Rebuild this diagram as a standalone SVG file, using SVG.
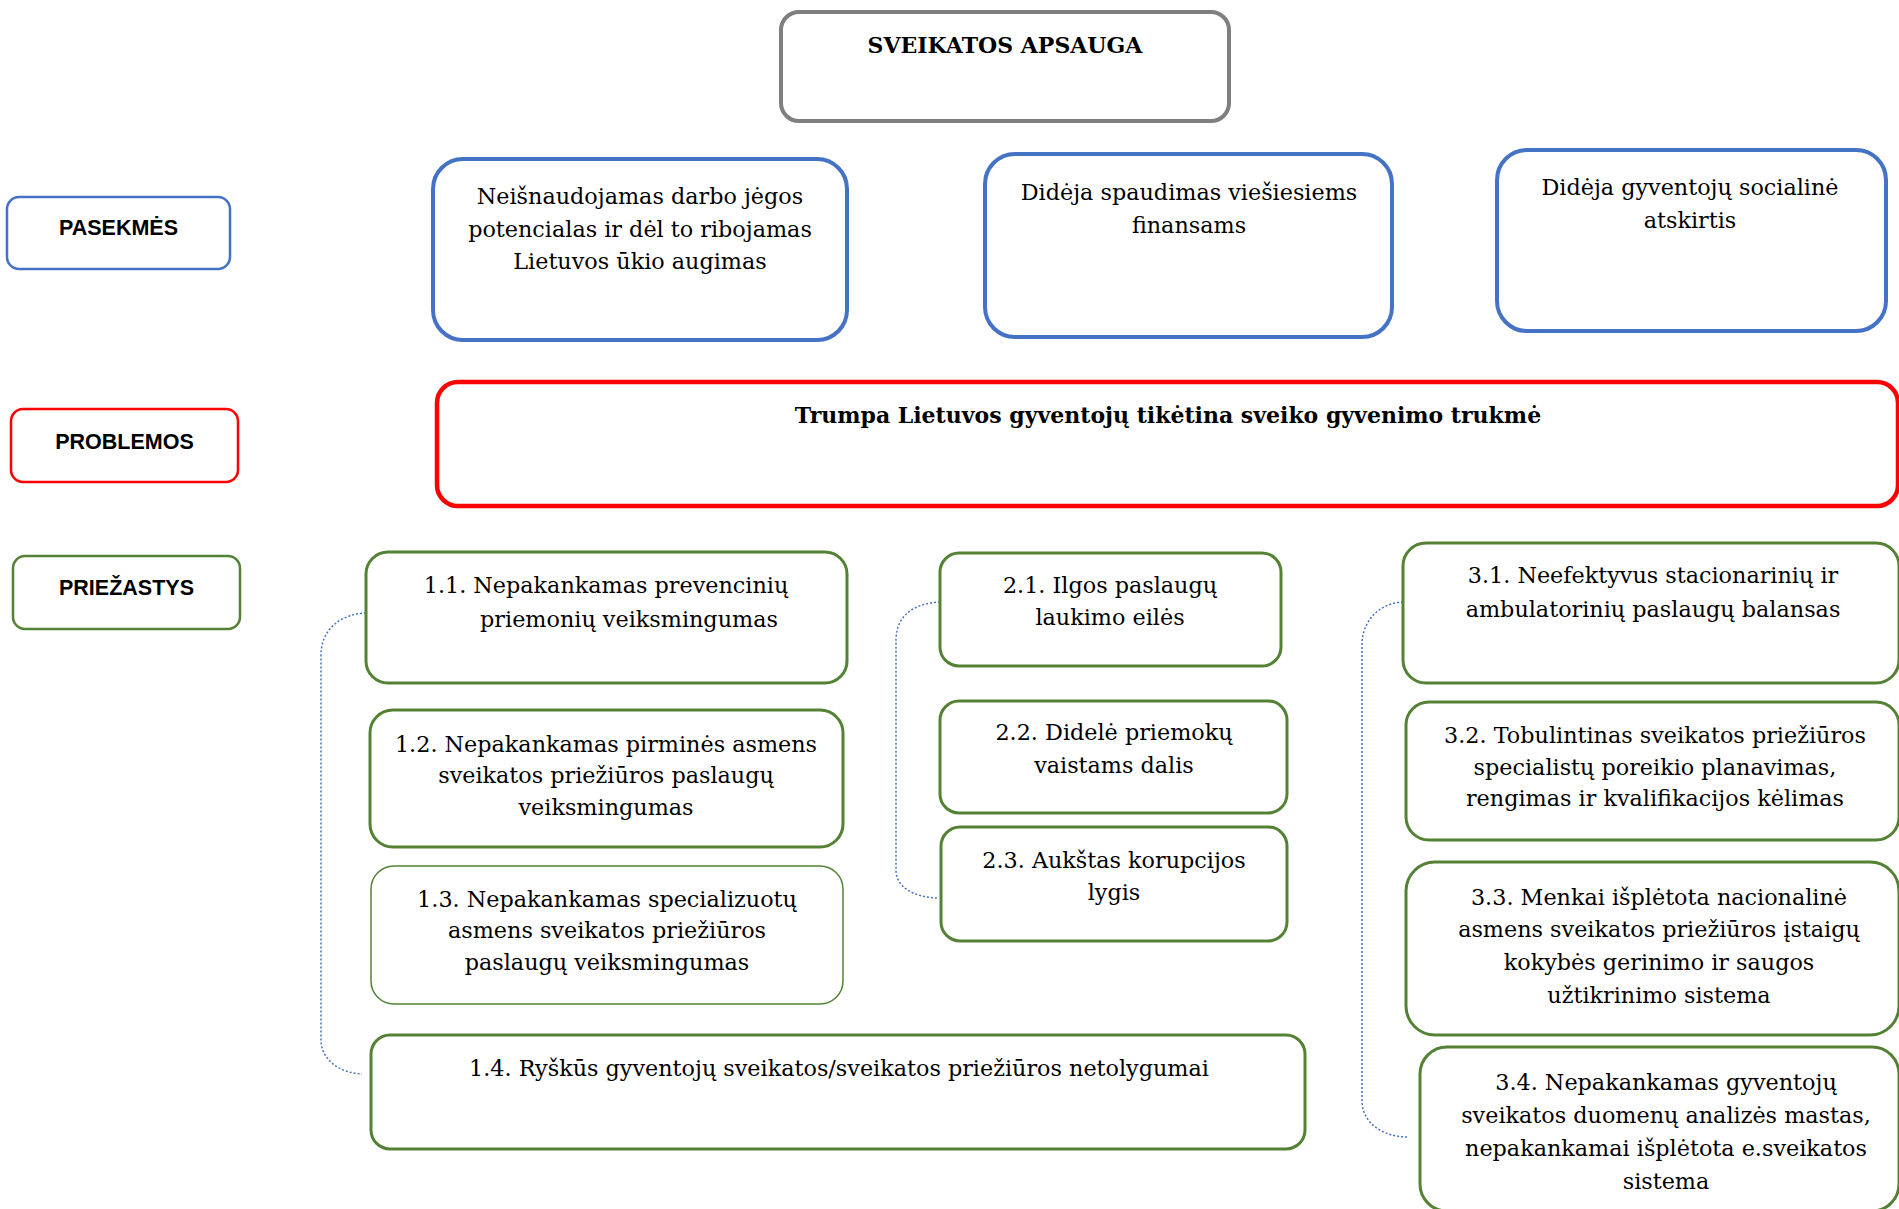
<svg xmlns="http://www.w3.org/2000/svg" width="1899" height="1209" viewBox="0 0 1899 1209">
<style>
.box{fill:#fff}
.gray{stroke:#7f7f7f;stroke-width:4}
.blue{stroke:#4472c4;stroke-width:4}
.blueT{stroke:#4472c4;stroke-width:2.5}
.red{stroke:#ff0000;stroke-width:4.5}
.redT{stroke:#ff0000;stroke-width:2.5}
.green{stroke:#548235;stroke-width:3}
.greenT{stroke:#548235;stroke-width:1.5}
.t{font-family:"DejaVu Serif","Liberation Serif",serif;font-size:22.3px;fill:#000;text-anchor:middle}
.tb{font-family:"DejaVu Serif","Liberation Serif",serif;font-size:22px;font-weight:bold;fill:#000;text-anchor:middle}
.lab{font-family:"Liberation Sans",Arial,sans-serif;font-size:21.5px;font-weight:bold;fill:#000;text-anchor:middle}
.con{fill:none;stroke:#4472c4;stroke-width:1.5;stroke-dasharray:2 2}
</style>
<g id="connectors">
<path class="con" d="M366,613 C340,614 321,630 321,655 L321,1040 C321,1060 340,1073 362,1074"/>
<path class="con" d="M940,602 C915,603 896,615 896,640 L896,870 C896,888 915,897 937,898"/>
<path class="con" d="M1403,602 C1380,603 1362,620 1362,645 L1362,1100 C1362,1125 1385,1137 1408,1137"/>
</g>
<g id="n-top">
<rect class="box gray" x="781" y="12" width="448" height="109" rx="18"/>
<text class="tb" x="1005" y="53">SVEIKATOS APSAUGA</text>
</g>
<g id="n-pasekmes">
<rect class="box blueT" x="7" y="197" width="223" height="72" rx="12"/>
<text class="lab" x="118.5" y="235">PASEKMĖS</text>
</g>
<g id="n-a">
<rect class="box blue" x="433" y="159" width="414" height="181" rx="30"/>
<text class="t" x="640" y="204">Neišnaudojamas darbo jėgos</text>
<text class="t" x="640" y="237">potencialas ir dėl to ribojamas</text>
<text class="t" x="640" y="269">Lietuvos ūkio augimas</text>
</g>
<g id="n-b">
<rect class="box blue" x="985" y="154" width="407" height="183" rx="30"/>
<text class="t" x="1189" y="200">Didėja spaudimas viešiesiems</text>
<text class="t" x="1189" y="233">finansams</text>
</g>
<g id="n-c">
<rect class="box blue" x="1497" y="150" width="389" height="181" rx="30"/>
<text class="t" x="1690" y="195">Didėja gyventojų socialinė</text>
<text class="t" x="1690" y="228">atskirtis</text>
</g>
<g id="n-problemos">
<rect class="box redT" x="11" y="409" width="227" height="73" rx="12"/>
<text class="lab" x="124.5" y="449">PROBLEMOS</text>
</g>
<g id="n-problem">
<rect class="box red" x="437" y="382" width="1461" height="124" rx="21"/>
<text class="tb" x="1168" y="423">Trumpa Lietuvos gyventojų tikėtina sveiko gyvenimo trukmė</text>
</g>
<g id="n-priezastys">
<rect class="box green" x="13" y="556" width="227" height="73" rx="12" style="stroke-width:2.5"/>
<text class="lab" x="126.5" y="595">PRIEŽASTYS</text>
</g>
<g id="n-1-1">
<rect class="box green" x="366" y="552" width="481" height="131" rx="22"/>
<text class="t" x="606" y="593">1.1. Nepakankamas prevencinių</text>
<text class="t" x="629" y="627">priemonių veiksmingumas</text>
</g>
<g id="n-1-2">
<rect class="box green" x="370" y="710" width="473" height="137" rx="23"/>
<text class="t" x="606" y="752">1.2. Nepakankamas pirminės asmens</text>
<text class="t" x="606" y="783">sveikatos priežiūros paslaugų</text>
<text class="t" x="606" y="815">veiksmingumas</text>
</g>
<g id="n-1-3">
<rect class="box greenT" x="371" y="866" width="472" height="138" rx="23"/>
<text class="t" x="607" y="907">1.3. Nepakankamas specializuotų</text>
<text class="t" x="607" y="938">asmens sveikatos priežiūros</text>
<text class="t" x="607" y="970">paslaugų veiksmingumas</text>
</g>
<g id="n-1-4">
<rect class="box green" x="371" y="1035" width="934" height="114" rx="19"/>
<text class="t" x="839" y="1076">1.4. Ryškūs gyventojų sveikatos/sveikatos priežiūros netolygumai</text>
</g>
<g id="n-2-1">
<rect class="box green" x="940" y="553" width="341" height="113" rx="19"/>
<text class="t" x="1110" y="593">2.1. Ilgos paslaugų</text>
<text class="t" x="1110" y="625">laukimo eilės</text>
</g>
<g id="n-2-2">
<rect class="box green" x="940" y="701" width="347" height="112" rx="19"/>
<text class="t" x="1114" y="740">2.2. Didelė priemokų</text>
<text class="t" x="1114" y="773">vaistams dalis</text>
</g>
<g id="n-2-3">
<rect class="box green" x="941" y="827" width="346" height="114" rx="19"/>
<text class="t" x="1114" y="868">2.3. Aukštas korupcijos</text>
<text class="t" x="1114" y="900">lygis</text>
</g>
<g id="n-3-1">
<rect class="box green" x="1403" y="543" width="496" height="140" rx="23"/>
<text class="t" x="1653" y="583">3.1. Neefektyvus stacionarinių ir</text>
<text class="t" x="1653" y="617">ambulatorinių paslaugų balansas</text>
</g>
<g id="n-3-2">
<rect class="box green" x="1406" y="702" width="493" height="138" rx="23"/>
<text class="t" x="1655" y="743">3.2. Tobulintinas sveikatos priežiūros</text>
<text class="t" x="1655" y="775">specialistų poreikio planavimas,</text>
<text class="t" x="1655" y="806">rengimas ir kvalifikacijos kėlimas</text>
</g>
<g id="n-3-3">
<rect class="box green" x="1406" y="862" width="493" height="173" rx="29"/>
<text class="t" x="1659" y="905">3.3. Menkai išplėtota nacionalinė</text>
<text class="t" x="1659" y="937">asmens sveikatos priežiūros įstaigų</text>
<text class="t" x="1659" y="970">kokybės gerinimo ir saugos</text>
<text class="t" x="1659" y="1003">užtikrinimo sistema</text>
</g>
<g id="n-3-4">
<rect class="box green" x="1420" y="1047" width="479" height="164" rx="27"/>
<text class="t" x="1666" y="1090">3.4. Nepakankamas gyventojų</text>
<text class="t" x="1666" y="1123">sveikatos duomenų analizės mastas,</text>
<text class="t" x="1666" y="1156">nepakankamai išplėtota e.sveikatos</text>
<text class="t" x="1666" y="1189">sistema</text>
</g>
</svg>
